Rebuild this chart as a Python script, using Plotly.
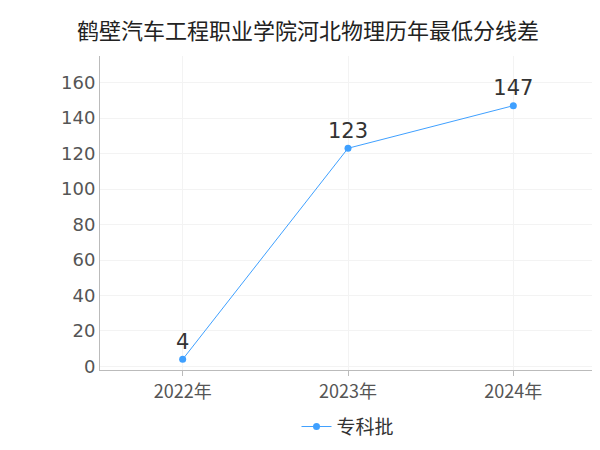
import plotly.graph_objects as go

years = ["2022年", "2023年", "2024年"]
values = [4, 123, 147]
series_name = "专科批"

fig = go.Figure(go.Scatter(
    x=years, y=values, mode="lines+markers+text", name=series_name,
    text=[str(v) for v in values], textposition="top center",
    textfont=dict(size=21, color="#333"),
    line=dict(color="#3fa0ff", width=1), marker=dict(size=7, color="#3fa0ff"),
))
fig.update_layout(
    width=600, height=450, plot_bgcolor="white", paper_bgcolor="white",
    font=dict(family="DejaVu Sans, Noto Sans CJK SC", color="#555"),
    title=dict(text="鹤壁汽车工程职业学院河北物理历年最低分线差", x=0.5, y=0.965, font=dict(size=22, color="#222", family="Noto Sans CJK SC")),
    margin=dict(l=92, r=12, t=48, b=79),
    showlegend=True,
    legend=dict(orientation="h", x=0.5, xanchor="center", y=-0.12, font=dict(size=19, color="#333", family="Noto Sans CJK SC")),
    xaxis=dict(range=[-0.5, 2.5], showline=True, linecolor="#bbb", tickfont=dict(size=18, family="Noto Sans CJK SC"), showgrid=True, gridcolor="#f3f3f3", ticks="outside", tickcolor="#bbb"),
    yaxis=dict(range=[-2, 175], dtick=20, showline=True, linecolor="#bbb", tickfont=dict(size=18), showgrid=True, gridcolor="#f3f3f3", zeroline=False),
)
fig.write_html("out.html")
